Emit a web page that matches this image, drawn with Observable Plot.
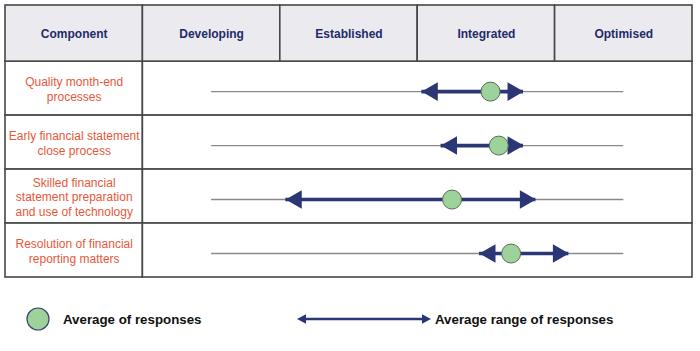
<!DOCTYPE html>
<html>
<head>
<meta charset="utf-8">
<script src="https://cdn.jsdelivr.net/npm/d3@7"></script>
<script src="https://cdn.jsdelivr.net/npm/@observablehq/plot@0.6"></script>
<style>
  body { margin: 0; background: #fff; font-family: "Liberation Sans", Arial, sans-serif; }
  #chart { width: 700px; }
  #legend { position: relative; width: 700px; height: 71px; }
  .lg { position: absolute; top: 27px; height: 24px; display: flex; align-items: center; font-weight: bold; font-size: 13.3px; color: #111; white-space: nowrap; }
</style>
</head>
<body>
<div id="chart"></div>
<div id="legend">
  <div class="lg" style="left:26px">
    <svg width="24" height="24"><circle cx="12" cy="12" r="11" fill="#9dd39a" stroke="#3c4470" stroke-width="1.2"></circle></svg>
    <span style="margin-left:13px">Average of responses</span>
  </div>
  <div class="lg" style="left:297px">
    <svg width="134" height="14"><line x1="6" y1="7" x2="128" y2="7" stroke="#2b3674" stroke-width="2.6"></line><path d="M0,7L9,2.2L9,11.8Z" fill="#2b3674"></path><path d="M134,7L125,2.2L125,11.8Z" fill="#2b3674"></path></svg>
    <span style="margin-left:4px">Average range of responses</span>
  </div>
</div>
<script>
const stages = ["Developing", "Established", "Integrated", "Optimised"];
const headerLabels = ["Component", ...stages];
const components = [
  "Quality month-end\nprocesses",
  "Early financial statement\nclose process",
  "Skilled financial\nstatement preparation\nand use of technology",
  "Resolution of financial\nreporting matters"
];
// values on the maturity scale: 1 = Developing, 2 = Established, 3 = Integrated, 4 = Optimised
const averageValues = [3.03, 3.09, 2.75, 3.18];
const rangeLow = [2.53, 2.67, 1.54, 2.95];
const rangeHigh = [3.27, 3.27, 3.36, 3.60];

const header = headerLabels.map((label, i) => ({label, col: i}));
const rows = components.map((label, i) => ({
  label, row: i + 1, avg: averageValues[i], lo: rangeLow[i], hi: rangeHigh[i]
}));
const bodyCells = rows.flatMap(d => [
  {row: d.row, c1: -0.5, c2: 0.5},
  {row: d.row, c1: 0.5, c2: stages.length + 0.5}
]);

const navy = "#2b3674";
const border = "#474747";
const headerTop = -0.54; // header row is slightly taller than body rows

const chart = Plot.plot({
  width: 700,
  height: 280,
  marginTop: 5,
  marginLeft: 5,
  marginRight: 8,
  marginBottom: 3,
  x: {domain: [-0.5, stages.length + 0.5], axis: null},
  y: {domain: [headerTop, components.length + 0.5], reverse: true, axis: null},
  style: {fontFamily: "'Liberation Sans', Arial, sans-serif", background: "white", overflow: "visible"},
  marks: [
    Plot.rect(bodyCells, {x1: "c1", x2: "c2", y1: d => d.row - 0.5, y2: d => d.row + 0.5, fill: "white", stroke: border, strokeWidth: 1.6}),
    Plot.rect(header, {x1: d => d.col - 0.5, x2: d => d.col + 0.5, y1: () => headerTop, y2: () => 0.5, fill: "#ebebef", stroke: border, strokeWidth: 1.6}),
    Plot.text(header, {x: "col", y: () => 0, text: "label", fill: "#1f2a6a", fontWeight: "bold", fontSize: 12}),
    Plot.text(rows, {x: () => 0, y: "row", text: "label", fill: "#e8573a", fontSize: 12, lineHeight: 1.22}),
    Plot.ruleY(rows, {y: "row", x1: () => 1, x2: () => stages.length, stroke: "#8a8a8a", strokeWidth: 1.4, dy: 3}),
    Plot.ruleY(rows, {y: "row", x1: "lo", x2: "hi", stroke: navy, strokeWidth: 3.6, dy: 3}),
    Plot.dot(rows, {x: "lo", y: "row", symbol: "triangle", rotate: -90, r: 6.9, fill: navy, dx: 10.6, dy: 3}),
    Plot.dot(rows, {x: "hi", y: "row", symbol: "triangle", rotate: 90, r: 6.9, fill: navy, dx: -10.6, dy: 3}),
    Plot.dot(rows, {x: "avg", y: "row", r: 9.5, fill: "#9dd39a", stroke: "#5d6b5a", strokeWidth: 1, dy: 3})
  ]
});
document.getElementById("chart").appendChild(chart);
</script>
</body>
</html>
